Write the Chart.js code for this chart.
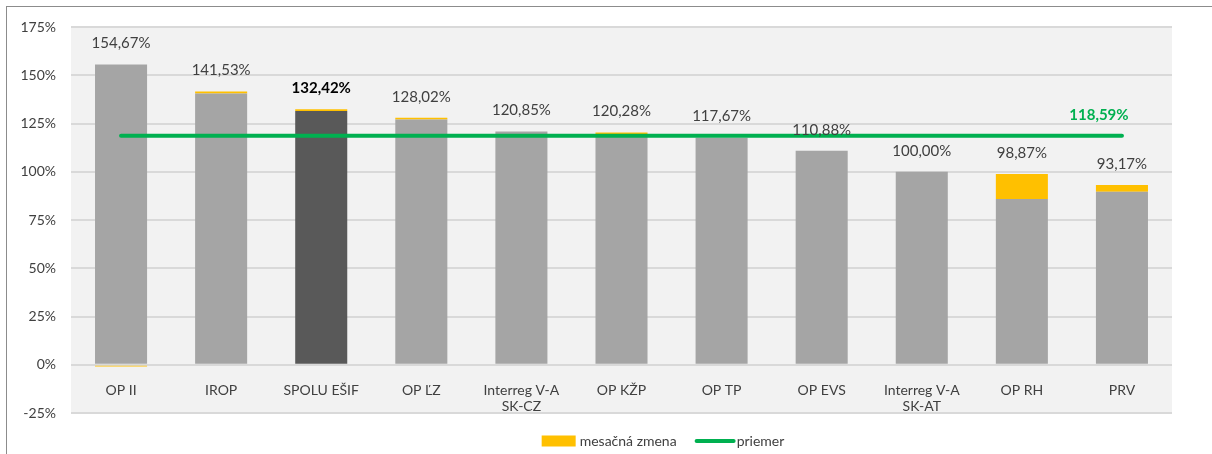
<!DOCTYPE html>
<html>
<head>
<meta charset="utf-8">
<script src="https://cdn.jsdelivr.net/npm/chart.js@4/dist/chart.umd.min.js"></script>
<style>
  html, body { margin: 0; padding: 0; background: #ffffff; }
  #wrap { position: relative; width: 1212px; height: 454px; overflow: hidden; }
  #frame { position: absolute; left: 6px; top: 6px; width: 1240px; height: 460px; border-left: 1.5px solid #8c8c8c; border-top: 1.5px solid #8c8c8c; box-sizing: border-box; pointer-events: none; }
  canvas { position: absolute; left: 0; top: 0; }
</style>
</head>
<body>
<div id="wrap">
  <canvas id="c" width="1212" height="454"></canvas>
  <div id="frame"></div>
</div>
<script>
// ---- data ----
const categories = [
  'OP II', 'IROP', 'SPOLU EŠIF', 'OP ĽZ', ['Interreg V-A', 'SK-CZ'], 'OP KŽP',
  'OP TP', 'OP EVS', ['Interreg V-A', 'SK-AT'], 'OP RH', 'PRV'
];
const totals = [154.67, 141.53, 132.42, 128.02, 120.85, 120.28, 117.67, 110.88, 100.00, 98.87, 93.17];
const monthlyChange = [-0.9, 1.0, 1.0, 1.0, 0, 0.8, 0, 0, 0, 12.97, 3.57];
const averageValue = 118.59;
const yTicks = [-25, 0, 25, 50, 75, 100, 125, 150, 175];
const legendLabels = ['mesačná zmena', 'priemer'];
const highlightIndex = 2; // SPOLU EŠIF

const baseValues = totals.map((t, i) => +(t - monthlyChange[i]).toFixed(2));
const averageLine = categories.map(() => averageValue);

const FONT = 'Lato, "Open Sans", sans-serif';
const TEXT = '#404040';
const fmt = v => v.toFixed(2).replace('.', ',') + '%';

const bgPlugin = {
  id: 'plotBg',
  beforeDraw(chart) {
    const { ctx, chartArea: a } = chart;
    ctx.save();
    ctx.fillStyle = '#f2f2f2';
    ctx.fillRect(a.left, a.top, a.right - a.left, a.bottom - a.top);
    ctx.restore();
  }
};

const labelPlugin = {
  id: 'valueLabels',
  afterDatasetsDraw(chart) {
    const { ctx } = chart;
    const x = chart.scales.x, y = chart.scales.y;
    ctx.save();
    ctx.textAlign = 'center';
    ctx.textBaseline = 'middle';
    totals.forEach((t, i) => {
      const top = Math.max(baseValues[i], 0) + Math.max(monthlyChange[i], 0);
      const px = x.getPixelForValue(i);
      const py = y.getPixelForValue(top) - 21;
      ctx.font = (i === highlightIndex ? 'bold ' : '') + '15px ' + FONT;
      ctx.fillStyle = i === highlightIndex ? '#000000' : TEXT;
      ctx.fillText(fmt(t), px, py);
    });
    // average label
    const last = categories.length - 1;
    ctx.font = 'bold 15px ' + FONT;
    ctx.fillStyle = '#00b050';
    ctx.fillText(fmt(averageValue), x.getPixelForValue(last) - 23, y.getPixelForValue(averageValue) - 21);
    ctx.restore();
  }
};

const legendPlugin = {
  id: 'customLegend',
  afterDraw(chart) {
    const { ctx } = chart;
    ctx.save();
    ctx.font = '14px ' + FONT;
    ctx.textBaseline = 'middle';
    ctx.textAlign = 'left';
    const yc = 441;
    const w1 = ctx.measureText(legendLabels[0]).width;
    const w2 = ctx.measureText(legendLabels[1]).width;
    const total = 34 + 4 + w1 + 20 + 37 + 3 + w2;
    let xs = 663 - total / 2;
    ctx.fillStyle = '#ffc000';
    ctx.fillRect(xs, yc - 5.5, 34, 11);
    xs += 38;
    ctx.fillStyle = TEXT;
    ctx.fillText(legendLabels[0], xs, yc);
    xs += w1 + 20;
    ctx.strokeStyle = '#00b050';
    ctx.lineWidth = 4;
    ctx.lineCap = 'round';
    ctx.beginPath();
    ctx.moveTo(xs, yc);
    ctx.lineTo(xs + 37, yc);
    ctx.stroke();
    xs += 40;
    ctx.fillText(legendLabels[1], xs, yc);
    ctx.restore();
  }
};

new Chart(document.getElementById('c'), {
  type: 'bar',
  data: {
    labels: categories,
    datasets: [
      {
        type: 'line',
        label: legendLabels[1],
        data: averageLine,
        borderColor: '#00b050',
        borderWidth: 4,
        borderCapStyle: 'round',
        pointRadius: 0,
        fill: false,
        stack: 'avg',
        order: 0
      },
      {
        label: 'base',
        data: baseValues,
        backgroundColor: categories.map((c, i) => i === highlightIndex ? '#595959' : '#a5a5a5'),
        stack: 'bars',
        order: 1
      },
      {
        label: legendLabels[0],
        data: monthlyChange,
        backgroundColor: '#ffc000',
        stack: 'bars',
        order: 1
      }
    ]
  },
  options: {
    responsive: false,
    animation: false,
    events: [],
    datasets: { bar: { categoryPercentage: 1, barPercentage: 0.52 } },
    layout: { padding: { left: 0, top: 27, right: 40, bottom: 41 } },
    plugins: { legend: { display: false }, tooltip: { enabled: false } },
    scales: {
      x: {
        stacked: true,
        position: { y: 0 },
        grid: { display: false },
        border: { display: false },
        ticks: { color: TEXT, font: { family: FONT, size: 14 }, padding: 9, maxRotation: 0, autoSkip: false }
      },
      y: {
        stacked: true,
        min: -25,
        max: 175,
        afterFit(s) { s.width = 71; },
        afterBuildTicks(s) { s.ticks = yTicks.map(v => ({ value: v })); },
        grid: { color: '#d9d9d9', lineWidth: 2, drawTicks: false },
        border: { display: false },
        ticks: { color: TEXT, font: { family: FONT, size: 14 }, padding: 15, callback: v => v + '%' }
      }
    }
  },
  plugins: [bgPlugin, labelPlugin, legendPlugin]
});
</script>
</body>
</html>
